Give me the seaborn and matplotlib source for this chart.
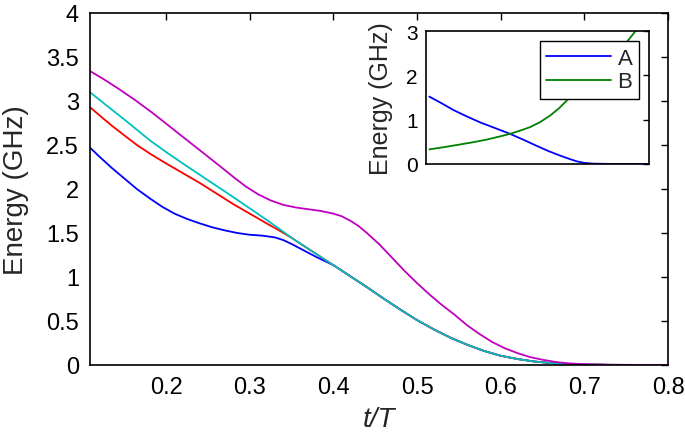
import matplotlib
matplotlib.use("Agg")
import matplotlib.pyplot as plt
import seaborn as sns

# ---------------- data ----------------
# shared tail where the lower curves coincide
t_tail = [0.42, 0.44, 0.46, 0.48, 0.50, 0.52, 0.54, 0.56, 0.58, 0.60, 0.62, 0.64,
          0.66, 0.68, 0.70, 0.73, 0.8]
e_tail = [1.01, 0.885, 0.755, 0.63, 0.51, 0.405, 0.31, 0.23, 0.16, 0.105, 0.068, 0.04,
          0.022, 0.012, 0.006, 0.002, 0.0]

t_blue_head = [0.109, 0.12, 0.135, 0.15, 0.165, 0.181, 0.195, 0.21, 0.225, 0.24, 0.255,
               0.27, 0.285, 0.30, 0.315, 0.33, 0.34, 0.35, 0.36, 0.37, 0.38, 0.39, 0.40]
e_blue_head = [2.47, 2.37, 2.24, 2.12, 2.00, 1.89, 1.80, 1.72, 1.66, 1.61, 1.565,
               1.53, 1.50, 1.48, 1.47, 1.45, 1.42, 1.375, 1.325, 1.275, 1.225, 1.18, 1.135]

t_red_head = [0.109, 0.12, 0.135, 0.15, 0.165, 0.181, 0.20, 0.22, 0.24, 0.26, 0.28,
              0.30, 0.32, 0.335, 0.35, 0.37, 0.40]
e_red_head = [2.93, 2.84, 2.72, 2.61, 2.50, 2.40, 2.29, 2.18, 2.07, 1.95, 1.83,
              1.72, 1.61, 1.53, 1.445, 1.32, 1.135]

t_cyan_head = [0.109, 0.13, 0.15, 0.181, 0.20, 0.22, 0.25, 0.28, 0.30, 0.32, 0.335,
               0.35, 0.37, 0.40]
e_cyan_head = [3.10, 2.94, 2.79, 2.55, 2.42, 2.29, 2.10, 1.91, 1.78, 1.65, 1.55,
               1.445, 1.32, 1.135]

t_mag = [0.109, 0.125, 0.143, 0.163, 0.183, 0.203, 0.223, 0.243, 0.263, 0.28, 0.295,
         0.31, 0.325, 0.34, 0.355, 0.37, 0.385, 0.40, 0.41, 0.42, 0.43, 0.44, 0.455,
         0.47, 0.485, 0.50, 0.515, 0.53, 0.545, 0.56, 0.575, 0.59, 0.605, 0.62, 0.635,
         0.65, 0.665, 0.68, 0.70, 0.73, 0.76, 0.8]
e_mag = [3.34, 3.25, 3.14, 3.01, 2.87, 2.72, 2.57, 2.42, 2.27, 2.14, 2.03,
         1.94, 1.87, 1.82, 1.79, 1.77, 1.75, 1.72, 1.69, 1.64, 1.58, 1.50, 1.37,
         1.22, 1.07, 0.93, 0.80, 0.68, 0.57, 0.45, 0.35, 0.26, 0.19, 0.135, 0.09,
         0.06, 0.035, 0.02, 0.008, 0.002, 0.0, 0.0]

# inset (horizontal axis unlabeled -> fraction of the panel width)
s_A = [0.015, 0.07, 0.122, 0.18, 0.242, 0.31, 0.377, 0.44, 0.496, 0.55, 0.601, 0.64,
       0.676, 0.71, 0.75, 0.85, 1.0]
e_A = [1.52, 1.37, 1.22, 1.08, 0.94, 0.81, 0.68, 0.54, 0.41, 0.29, 0.19, 0.12,
       0.06, 0.025, 0.008, 0.0, 0.0]
s_B = [0.015, 0.08, 0.152, 0.21, 0.272, 0.33, 0.377, 0.42, 0.466, 0.51, 0.556, 0.595,
       0.631, 0.67, 0.70, 0.75, 0.80, 0.85, 0.90, 0.94, 0.97]
e_B = [0.33, 0.38, 0.44, 0.49, 0.55, 0.62, 0.68, 0.75, 0.83, 0.94, 1.09, 1.25,
       1.43, 1.60, 1.75, 1.97, 2.2, 2.46, 2.75, 3.0, 3.2]

main_xticks = [0.2, 0.3, 0.4, 0.5, 0.6, 0.7, 0.8]
main_yticks = [0, 0.5, 1, 1.5, 2, 2.5, 3, 3.5, 4]
inset_yticks = [0, 1, 2, 3]
legend_labels = ["A", "B"]

# ---------------- style ----------------
sns.set_theme(style="white")
plt.rcParams["font.family"] = ["Liberation Sans", "DejaVu Sans"]
plt.rcParams["axes.edgecolor"] = "black"
plt.rcParams["axes.linewidth"] = 1.2

c_blue = (0, 0, 1)
c_green = (0, 0.5, 0)
c_red = (1, 0, 0)
c_cyan = (0, 0.75, 0.75)
c_mag = (0.75, 0, 0.75)
lw = 1.3

fig = plt.figure(figsize=(6.85, 4.35), dpi=100)
ax = fig.add_axes([90 / 685, 1 - 366 / 435, (668 - 90) / 685, (366 - 14) / 435])

series = [
    (t_blue_head + t_tail, e_blue_head + e_tail, c_blue),
    (t_red_head + t_tail, e_red_head + e_tail, c_red),
    (t_cyan_head + t_tail, e_cyan_head + e_tail, c_cyan),
    (t_mag, e_mag, c_mag),
]
for t, e, c in series:
    sns.lineplot(x=t, y=e, ax=ax, color=c, linewidth=lw, sort=False, estimator=None)

ax.set_xlim(0.109, 0.8)
ax.set_ylim(0, 4)
ax.set_xticks(main_xticks)
ax.set_xticklabels([f"{v:g}" for v in main_xticks])
ax.set_yticks(main_yticks)
ax.set_yticklabels([f"{v:g}" for v in main_yticks])
ax.tick_params(direction="in", length=5, width=1, top=True, right=True,
               labelsize=17, pad=8, colors="black")
ax.set_xlabel("t/T", fontsize=20, style="italic", labelpad=6)
ax.set_ylabel("Energy (GHz)", fontsize=20, labelpad=12)
for s in ax.spines.values():
    s.set_visible(True)
    s.set_color("black")

# inset
ax2 = fig.add_axes([426 / 685, 1 - 165 / 435, (649 - 426) / 685, (165 - 32) / 435])
sns.lineplot(x=s_A, y=e_A, ax=ax2, color=c_blue, linewidth=lw, sort=False,
             estimator=None, label=legend_labels[0])
sns.lineplot(x=s_B, y=e_B, ax=ax2, color=c_green, linewidth=lw, sort=False,
             estimator=None, label=legend_labels[1])
ax2.set_xlim(0, 1)
ax2.set_ylim(0, 3)
ax2.set_xticks([])
ax2.set_yticks(inset_yticks)
ax2.set_yticklabels([str(v) for v in inset_yticks])
ax2.tick_params(direction="in", length=4, width=1, right=True, labelsize=15,
                pad=6, colors="black")
ax2.set_ylabel("Energy (GHz)", fontsize=18, labelpad=9)
for s in ax2.spines.values():
    s.set_visible(True)
    s.set_color("black")
leg = ax2.legend(loc="upper right", bbox_to_anchor=(1, 1), fontsize=16,
                 frameon=True, fancybox=False, framealpha=1, edgecolor="black",
                 handlelength=2.9, handletextpad=0.3, labelspacing=0.12,
                 borderpad=0.3, borderaxespad=0.45)
leg.get_frame().set_linewidth(1.0)

fig.savefig("out.png", dpi=100)
